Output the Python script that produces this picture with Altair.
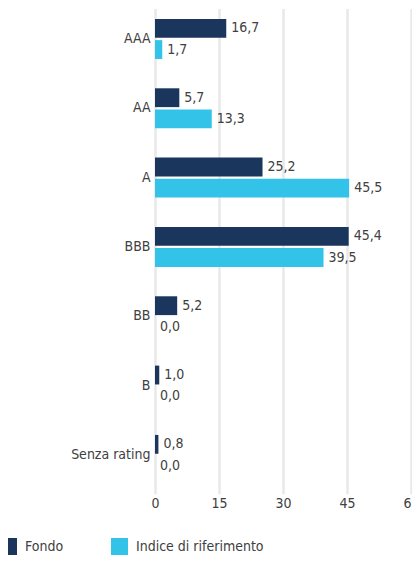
import altair as alt
import pandas as pd

ratings = ["AAA", "AA", "A", "BBB", "BB", "B", "Senza rating"]
fondo = [16.7, 5.7, 25.2, 45.4, 5.2, 1.0, 0.8]
indice = [1.7, 13.3, 45.5, 39.5, 0.0, 0.0, 0.0]
series = ["Fondo", "Indice di riferimento"]
colors = ["#1b365d", "#34c3e8"]
x_ticks = [0, 15, 30, 45, 60]

rows = []
for r, f, i in zip(ratings, fondo, indice):
    rows.append({"rating": r, "serie": series[0], "valore": f})
    rows.append({"rating": r, "serie": series[1], "valore": i})
df = pd.DataFrame(rows)
df["etichetta"] = df["valore"].map(lambda v: f"{v:.1f}".replace(".", ","))

FONT = "DejaVu Sans Condensed"
FS = 14
TXT = "#404040"

y = alt.Y(
    "rating:N",
    sort=ratings,
    scale=alt.Scale(range=[-3.7, 481.6], paddingInner=0.423, paddingOuter=0.2115),
    axis=alt.Axis(title=None, ticks=False, domain=False, labelPadding=5,
                  labelFontSize=FS, labelColor=TXT, labelFont=FONT, grid=False),
)
yoff = alt.YOffset("serie:N", sort=series,
                   scale=alt.Scale(paddingInner=0.11, paddingOuter=0))
x = alt.X(
    "valore:Q",
    scale=alt.Scale(domain=[0, 60], nice=False),
    axis=alt.Axis(values=x_ticks, title=None, ticks=False, domain=False, grid=True,
                  gridColor="#e8e8e8", gridWidth=2.5, labelPadding=6, labelFlush=False,
                  labelFontSize=FS, labelColor=TXT, labelFont=FONT),
)
color = alt.Color(
    "serie:N",
    sort=series,
    scale=alt.Scale(domain=series, range=colors),
    legend=alt.Legend(title=None, orient="none", legendX=-155, legendY=530,
                      direction="horizontal", symbolType="square", symbolSize=289,
                      symbolStrokeWidth=0, labelFontSize=FS, labelFont=FONT,
                      labelColor=TXT, labelOffset=8, columnPadding=47),
)

bars = alt.Chart(df).mark_bar().encode(x=x, y=y, yOffset=yoff, color=color)
text = alt.Chart(df).mark_text(
    align="left", baseline="middle", dx=5, font=FONT, fontSize=FS, color=TXT
).encode(x=alt.X("valore:Q"), y=alt.Y("rating:N", sort=ratings),
         yOffset=alt.YOffset("serie:N", sort=series), text="etichetta:N")

chart = (bars + text).properties(
    width=256, height=482,
    autosize=alt.AutoSizeParams(type="none"),
    padding={"left": 147, "top": 0, "right": 1, "bottom": 66},
).configure_view(stroke=None)

chart.save("out.html", embed_options={"renderer": "svg", "actions": False})
